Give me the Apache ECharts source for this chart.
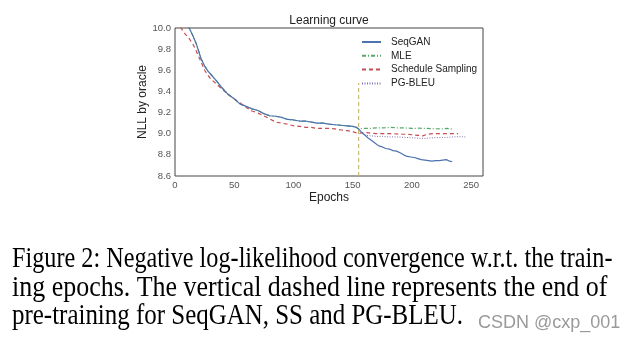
<!DOCTYPE html>
<html><head><meta charset="utf-8">
<script src="https://cdn.jsdelivr.net/npm/echarts@6/dist/echarts.min.js"></script>
<style>html,body{margin:0;padding:0;background:#fff}#c{width:640px;height:342px}</style>
</head><body><div id="c"></div>
<script>
// ---- data ----
const xTicks = [0, 50, 100, 150, 200, 250];
const yTicks = [8.6, 8.8, 9.0, 9.2, 9.4, 9.6, 9.8, 10.0];

// pre-training (MLE) curve, shared by SeqGAN and MLE up to the dashed line
const pretrainEpochs = [0, 5, 10, 12, 15, 18, 20, 22, 25, 28, 30, 35, 40, 45, 50, 55, 60, 65, 70, 75, 80, 85, 90, 95, 100, 105, 110, 115, 120, 125, 130, 135, 140, 145, 150, 153, 155];
const pretrainNLL    = [10.35, 10.15, 10.04, 10.0, 9.93, 9.85, 9.78, 9.71, 9.64, 9.59, 9.565, 9.5, 9.43, 9.37, 9.33, 9.28, 9.26, 9.235, 9.22, 9.19, 9.17, 9.165, 9.155, 9.135, 9.13, 9.12, 9.12, 9.11, 9.1, 9.1, 9.09, 9.085, 9.08, 9.075, 9.07, 9.06, 9.045];

const seqganEpochs = [157, 160, 163, 166, 169, 172, 175, 178, 181, 184, 187, 190, 193, 196, 199, 202, 205, 208, 211, 214, 217, 220, 223, 226, 229, 232, 234];
const seqganNLL    = [9.02, 8.99, 8.96, 8.935, 8.91, 8.885, 8.875, 8.86, 8.855, 8.84, 8.835, 8.82, 8.8, 8.785, 8.78, 8.775, 8.765, 8.755, 8.75, 8.745, 8.74, 8.745, 8.745, 8.75, 8.755, 8.74, 8.735];

const mleEpochs = [158, 164, 170, 176, 182, 188, 194, 200, 206, 212, 218, 224, 230, 234];
const mleNLL    = [9.05, 9.05, 9.055, 9.055, 9.06, 9.055, 9.055, 9.05, 9.052, 9.05, 9.048, 9.045, 9.05, 9.045];

const ssEpochs = [0, 3, 5, 8, 12, 15, 18, 20, 22, 25, 28, 30, 35, 40, 45, 50, 55, 60, 65, 70, 75, 80, 85, 90, 95, 100, 105, 110, 115, 120, 125, 130, 135, 140, 145, 150, 155, 158, 162, 166, 170, 175, 180, 185, 190, 195, 200, 205, 209, 213, 217, 222, 227, 232, 236, 239];
const ssNLL    = [10.2, 10.05, 10.0, 9.95, 9.9, 9.85, 9.78, 9.73, 9.68, 9.6, 9.55, 9.52, 9.47, 9.42, 9.37, 9.33, 9.29, 9.25, 9.215, 9.195, 9.17, 9.14, 9.11, 9.1, 9.09, 9.075, 9.07, 9.06, 9.06, 9.05, 9.05, 9.05, 9.045, 9.035, 9.03, 9.02, 9.0, 9.01, 9.01, 9.005, 9.0, 9.0, 9.0, 9.0, 8.995, 8.995, 8.99, 8.985, 8.98, 8.995, 9.0, 9.0, 9.0, 9.0, 9.0, 9.0];

const pgEpochs = [155, 158, 161, 165, 170, 175, 180, 185, 190, 195, 200, 205, 210, 215, 220, 225, 230, 235, 240, 244, 246];
const pgNLL    = [9.03, 9.0, 8.985, 8.98, 8.975, 8.975, 8.97, 8.97, 8.968, 8.965, 8.962, 8.958, 8.955, 8.96, 8.962, 8.965, 8.965, 8.97, 8.972, 8.97, 8.968];

const pretrainEnd = [155, 155];
const pretrainEndNLL = [8.6, 9.48];

const seriesNames = ['SeqGAN', 'MLE', 'Schedule Sampling', 'PG-BLEU'];
const captionLines = [
  'Figure 2: Negative log-likelihood convergence w.r.t. the train-',
  'ing epochs. The vertical dashed line represents the end of',
  'pre-training for SeqGAN, SS and PG-BLEU.'
];
const watermark = 'CSDN @cxp_001';

// ---- build ----
const zip = (xs, ys) => xs.map((x, i) => [x, ys[i]]);
const seqAll = zip(pretrainEpochs, pretrainNLL).concat(zip(seqganEpochs, seqganNLL));
const mleAll = zip(pretrainEpochs, pretrainNLL).concat(zip(mleEpochs, mleNLL));

const sans = '"Liberation Sans", Arial, sans-serif';
const chart = echarts.init(document.getElementById('c'), null, {renderer: 'canvas'});
const capY = [259.5, 288, 316.5];
const capScale = [0.835, 0.895, 0.86];

chart.setOption({
  animation: false,
  backgroundColor: '#fff',
  title: {
    text: 'Learning curve', left: 329, top: 15, textAlign: 'center', padding: 0,
    textStyle: {fontFamily: sans, fontSize: 12, fontWeight: 'normal', color: '#222'}
  },
  grid: {left: 175, top: 28, right: 157, bottom: 166, show: true, borderColor: '#444', borderWidth: 1, backgroundColor: '#fff'},
  legend: {
    orient: 'vertical', left: 361, top: 37, padding: 0, itemWidth: 19, itemHeight: 10, itemGap: 3.8,
    data: seriesNames,
    itemStyle: {opacity: 0},
    textStyle: {fontFamily: sans, fontSize: 10, color: '#222', padding: [0, 0, 0, 5]}
  },
  xAxis: {
    type: 'value', min: 0, max: 260, interval: 50,
    name: 'Epochs', nameLocation: 'middle', nameGap: 16,
    nameTextStyle: {fontFamily: sans, fontSize: 12, color: '#222'},
    axisLine: {show: false}, axisTick: {show: false}, splitLine: {show: false},
    axisLabel: {fontFamily: sans, fontSize: 9.5, color: '#555', margin: 4, showMaxLabel: false}
  },
  yAxis: {
    type: 'value', min: yTicks[0], max: yTicks[yTicks.length - 1], interval: 0.2,
    name: 'NLL by oracle', nameLocation: 'middle', nameGap: 24, nameRotate: 90,
    nameTextStyle: {fontFamily: sans, fontSize: 12, color: '#222'},
    axisLine: {show: false}, axisTick: {show: false}, splitLine: {show: false},
    axisLabel: {fontFamily: sans, fontSize: 9.5, color: '#555', margin: 4, formatter: v => v.toFixed(1)}
  },
  series: [
    {name: 'MLE', type: 'line', data: mleAll, symbol: 'none', z: 2,
     lineStyle: {color: '#55A868', width: 1.2, type: [4, 2, 1, 2]}, itemStyle: {color: '#55A868'}},
    {name: 'Schedule Sampling', type: 'line', data: zip(ssEpochs, ssNLL), symbol: 'none', z: 3,
     lineStyle: {color: '#C44E52', width: 1.2, type: [4, 3]}, itemStyle: {color: '#C44E52'}},
    {name: 'PG-BLEU', type: 'line', data: zip(pgEpochs, pgNLL), symbol: 'none', z: 3,
     lineStyle: {color: '#8172B2', width: 1, type: [1, 1.5]}, itemStyle: {color: '#8172B2'}},
    {name: 'SeqGAN', type: 'line', data: seqAll, symbol: 'none', z: 4,
     lineStyle: {color: '#4C72B0', width: 1.2}, itemStyle: {color: '#4C72B0'}},
    {name: 'end', type: 'line', data: zip(pretrainEnd, pretrainEndNLL), symbol: 'none', z: 5,
     lineStyle: {color: '#CCB974', width: 1.2, type: [4, 3]}, silent: true}
  ],
  graphic: captionLines.map((t, i) => ({
    type: 'text', x: 12, y: capY[i], scaleX: capScale[i],
    style: {text: t, font: '29px "Liberation Serif", "Times New Roman", serif', fill: '#000', verticalAlign: 'middle'}
  })).concat([{
    type: 'text', x: 478, y: 323,
    style: {text: watermark, font: '18px "Liberation Sans", Arial, sans-serif', fill: '#9a9a9a', verticalAlign: 'middle'}
  }])
});
</script>
</body></html>
